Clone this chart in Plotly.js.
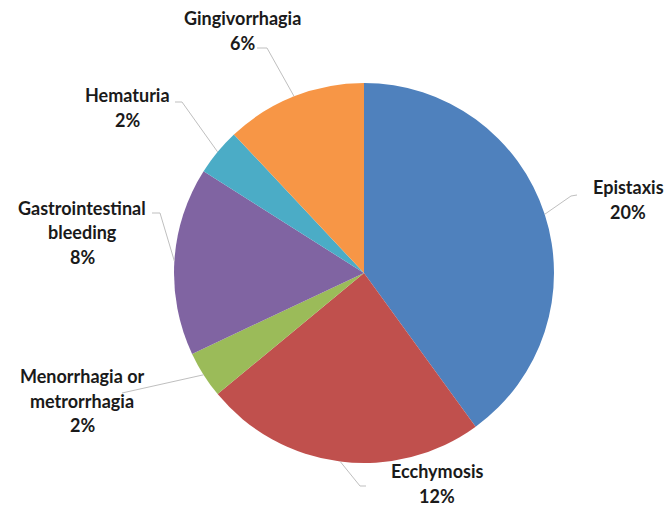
<!DOCTYPE html>
<html>
<head>
<meta charset="utf-8">
<script src="https://cdn.plot.ly/plotly-3.0.1.min.js"></script>
<style>html,body{margin:0;padding:0;background:#fff}#chart{width:665px;height:510px}</style>
</head>
<body>
<div id="chart"></div>
<script>
// ---- data ----
var categories = ["Epistaxis", "Ecchymosis", "Menorrhagia or metrorrhagia", "Gastrointestinal bleeding", "Hematuria", "Gingivorrhagia"];
var labelLines = [["Epistaxis"], ["Ecchymosis"], ["Menorrhagia or", "metrorrhagia"], ["Gastrointestinal", "bleeding"], ["Hematuria"], ["Gingivorrhagia"]];
var percentages = [20, 12, 2, 8, 2, 6];
var colors = ["#4F81BD", "#C0504D", "#9BBB59", "#8064A2", "#4BACC6", "#F79646"];

// ---- layout (pixels) ----
var W = 665, H = 510;
var CX = 364, CY = 273, R = 190;
var lineGap = 24.5;
// label block: first-line centre, elbow point, end point of leader
var labelPos = [
  {x: 628, y: 187, elbow: [571, 196], end: [577, 195]},
  {x: 437, y: 471, elbow: [360, 486], end: [366, 486]},
  {x: 82,  y: 376, elbow: [122, 393], end: [122, 393]},
  {x: 82,  y: 208, elbow: [160, 213], end: [152, 213]},
  {x: 127, y: 95,  elbow: [182, 102], end: [175, 102]},
  {x: 242, y: 18,  elbow: [267, 48],  end: [257, 48]}
];

function px(x){ return x / W; }
function py(y){ return 1 - y / H; }

var total = percentages.reduce(function(a,b){return a+b;}, 0);
var shapes = [], annotations = [];
var cum = 0;
percentages.forEach(function(v, i){
  var mid = (cum + v / 2) / total * 2 * Math.PI;
  cum += v;
  var sx = CX + R * Math.sin(mid), sy = CY - R * Math.cos(mid);
  var L = labelPos[i];
  var path = 'M' + px(sx) + ',' + py(sy) + ' L' + px(L.elbow[0]) + ',' + py(L.elbow[1]) + ' L' + px(L.end[0]) + ',' + py(L.end[1]);
  shapes.push({type: 'path', xref: 'paper', yref: 'paper', path: path, line: {color: '#BFBFBF', width: 1}});
  var lines = labelLines[i].concat([v + '%']);
  lines.forEach(function(t, k){
    annotations.push({
      xref: 'paper', yref: 'paper', x: px(L.x), y: py(L.y + k * lineGap),
      xanchor: 'center', yanchor: 'middle', showarrow: false, text: t,
      font: {family: 'Lato, "Open Sans", sans-serif', size: 18, color: '#1a1a1a', weight: 'bold'}
    });
  });
});

var trace = {
  type: 'pie',
  labels: categories,
  values: percentages,
  sort: false,
  direction: 'clockwise',
  rotation: 0,
  textinfo: 'none',
  hoverinfo: 'label+value',
  marker: {colors: colors, line: {width: 0}},
  domain: {x: [px(CX - R), px(CX + R)], y: [py(CY + R), py(CY - R)]},
  automargin: false
};

var layout = {
  width: W, height: H,
  margin: {l: 0, r: 0, t: 0, b: 0},
  showlegend: false,
  paper_bgcolor: '#ffffff',
  shapes: shapes,
  annotations: annotations
};

Plotly.newPlot('chart', [trace], layout, {displayModeBar: false, staticPlot: true});
</script>
</body>
</html>
